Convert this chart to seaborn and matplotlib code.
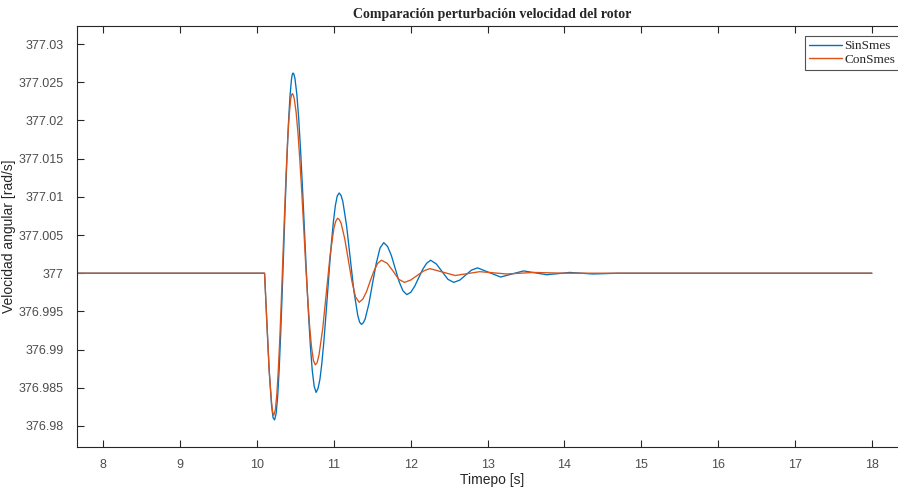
import numpy as np
import pandas as pd
import matplotlib
matplotlib.use("Agg")
import matplotlib.pyplot as plt
from matplotlib.ticker import FuncFormatter, MultipleLocator
import seaborn as sns

# ---- data ----
t_sin = [7.5, 10.1, 10.13, 10.16, 10.19, 10.21, 10.23, 10.25, 10.27, 10.29, 10.31, 10.33,
         10.35, 10.37, 10.39, 10.41, 10.43, 10.45, 10.46, 10.47, 10.48, 10.495, 10.52, 10.545, 10.57,
         10.595, 10.62, 10.645, 10.67, 10.695, 10.72, 10.745, 10.77, 10.795, 10.82, 10.845,
         10.87, 10.895, 10.92, 10.945, 10.97, 10.995, 11.02, 11.045, 11.07, 11.094, 11.118, 11.167,
         11.215, 11.263, 11.312, 11.336, 11.36, 11.384, 11.408, 11.457, 11.505, 11.553, 11.602, 11.65,
         11.70, 11.75, 11.80, 11.85, 11.90, 11.95, 12.002, 12.053, 12.105, 12.157, 12.208,
         12.26, 12.335, 12.41, 12.485, 12.56, 12.64, 12.715, 12.79, 12.87, 13.02, 13.17,
         13.32, 13.47, 13.77, 14.07, 14.37, 14.7, 18.0]
v_sin = [377.0, 377.0, 376.9935, 376.9873, 376.9828, 376.9811, 376.9808, 376.9816, 376.9838,
         376.9874, 376.9922, 376.9976, 377.0035, 377.0094, 377.0148, 377.0195, 377.0231,
         377.0254, 377.0260, 377.0262, 377.0261, 377.0255, 377.0234, 377.0201, 377.0158, 377.0108, 377.0054,
         376.9999, 376.9949, 376.9906, 376.9873, 376.9852, 376.9844, 376.9849, 376.9861,
         376.9882, 376.9909, 376.9941, 376.9975, 377.0009, 377.0040, 377.0067, 377.0088,
         377.0101, 377.0105, 377.0102, 377.0094, 377.0062, 377.0019, 376.9976, 376.9945, 376.9936, 376.9933,
         376.9935, 376.9940, 376.9960, 376.9987, 377.0013, 377.0033, 377.0040, 377.0035, 377.0023,
         377.0006, 376.9989, 376.9977, 376.9972, 376.9975, 376.9983, 376.9994, 377.0005,
         377.0013, 377.0017, 377.0012, 377.0002, 376.9992, 376.9988, 376.9991, 376.99975,
         377.0004, 377.0007, 377.0001, 376.9995, 376.9999, 377.0003, 376.9998, 377.0001,
         376.9999, 377.0, 377.0]

t_con = [7.5, 10.1, 10.13, 10.16, 10.19, 10.205, 10.22, 10.24, 10.26, 10.28, 10.30, 10.32,
         10.34, 10.36, 10.38, 10.40, 10.42, 10.44, 10.45, 10.46, 10.47, 10.485, 10.51, 10.535, 10.56,
         10.585, 10.61, 10.635, 10.66, 10.685, 10.71, 10.735, 10.76, 10.784, 10.808, 10.857, 10.905,
         10.953, 11.002, 11.026, 11.05, 11.074, 11.097, 11.143, 11.19, 11.237, 11.283, 11.33, 11.378,
         11.427, 11.475, 11.523, 11.572, 11.62, 11.695, 11.77, 11.845, 11.92, 12.0, 12.085,
         12.17, 12.25, 12.415, 12.58, 12.9, 13.25, 13.6, 14.0, 18.0]
v_con = [377.0, 377.0, 376.9935, 376.9872, 376.9832, 376.9818, 376.9814, 376.9821, 376.9842,
         376.9876, 376.9919, 376.9970, 377.0025, 377.0079, 377.0130, 377.0174, 377.0207,
         377.0228, 377.0233, 377.0235, 377.0234, 377.0229, 377.0211, 377.0183, 377.0146, 377.0104, 377.0058,
         377.0011, 376.9969, 376.9932, 376.9904, 376.9886, 376.9880, 376.9883, 376.9893, 376.9928,
         376.9976, 377.0024, 377.0059, 377.0068, 377.0072, 377.0070, 377.0065, 377.0045, 377.0017, 376.9989,
         376.9969, 376.9962, 376.9966, 376.9976, 376.9990, 377.0003, 377.0013, 377.0017,
         377.0013, 377.0003, 376.9992, 376.9988, 376.9991, 376.9997, 377.0003, 377.0006,
         377.00015, 376.9997, 377.0002, 376.9999, 377.0001, 377.0, 377.0]

series_names = ["SinSmes", "ConSmes"]
series_colors = ["#0072BD", "#D95319"]
x_ticks = [8, 9, 10, 11, 12, 13, 14, 15, 16, 17, 18]

df = pd.concat([
    pd.DataFrame({"t": t_sin, "v": v_sin, "serie": series_names[0]}),
    pd.DataFrame({"t": t_con, "v": v_con, "serie": series_names[1]}),
], ignore_index=True)

sns.set_theme(style="white")
plt.rcParams["font.family"] = ["Liberation Sans", "DejaVu Sans"]

fig = plt.figure(figsize=(8.98, 4.88), dpi=100)
ax_w, ax_h = 831, 421
ax = fig.add_axes([77 / 898, 1 - 447 / 488, ax_w / 898, ax_h / 488])

sns.lineplot(data=df, x="t", y="v", hue="serie", palette=series_colors,
             hue_order=series_names, sort=False, estimator=None, linewidth=0.95, ax=ax)

ax.set_xlim(7.66, 18.47)
ax.set_ylim(376.97725, 377.03236)
ax.set_xticks(x_ticks)
ax.yaxis.set_major_locator(MultipleLocator(0.005))

def fmt(v, pos):
    s = "{:.3f}".format(v).rstrip("0").rstrip(".")
    return s
ax.yaxis.set_major_formatter(FuncFormatter(fmt))

tick_col = "#4d4d4d"
ax.tick_params(direction="in", length=5, width=0.8, colors="#262626",
               labelcolor=tick_col, labelsize=9, top=True, right=True,
               bottom=True, left=True)
ax.tick_params(axis="y", pad=9.5)
ax.tick_params(axis="x", pad=9)
for sp in ax.spines.values():
    sp.set_color("#262626")
    sp.set_linewidth(0.8)

ax.set_xlabel("Timepo [s]", fontsize=10, color="#262626")
ax.xaxis.set_label_coords(0.5, -(473 - 447) / ax_h)
ax.set_ylabel("Velocidad angular [rad/s]", fontsize=10, color="#262626")
ax.yaxis.set_label_coords(-(77 - 16) / ax_w, 0.5)
ax.set_title("Comparación perturbación velocidad del rotor",
             fontfamily="Liberation Serif", fontweight="bold", fontsize=10, pad=6)

leg = ax.legend(loc="upper right", bbox_to_anchor=(899 / 898, 1 - 36 / 488),
                bbox_transform=fig.transFigure,
                prop={"family": "Liberation Serif", "size": 9.5},
                frameon=True, fancybox=False, edgecolor="#262626",
                handlelength=2.5, handletextpad=0.2, borderpad=0.3,
                labelspacing=0.1, borderaxespad=0)
leg.get_frame().set_linewidth(0.8)
for ln in leg.get_lines():
    ln.set_linewidth(1.0)

fig.savefig("out.png", dpi=100)
